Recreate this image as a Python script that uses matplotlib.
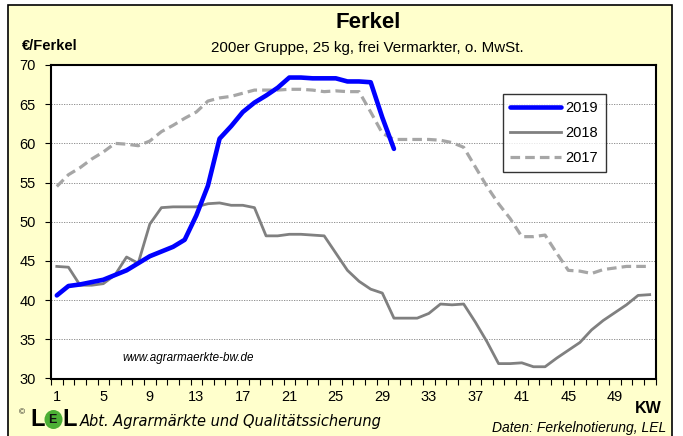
import matplotlib
matplotlib.use("Agg")
import matplotlib.pyplot as plt
from matplotlib.patches import Rectangle, Ellipse
from matplotlib.ticker import FixedLocator, NullFormatter

plt.rcParams['font.family'] = ['Liberation Sans', 'DejaVu Sans']

weeks = list(range(1, 53))
kw2019 = [40.6, 41.8, 42.0, 42.3, 42.6, 43.2, 43.8, 44.7, 45.6, 46.2, 46.8, 47.7, 50.8,
          54.6, 60.6, 62.2, 64.0, 65.2, 66.1, 67.1, 68.4, 68.4, 68.3, 68.3, 68.3, 67.9,
          67.9, 67.8, 63.3, 59.3]
kw2018 = [44.3, 44.2, 41.9, 41.9, 42.1, 43.2, 45.5, 44.7, 49.7, 51.8, 51.9, 51.9, 51.9,
          52.3, 52.4, 52.1, 52.1, 51.8, 48.2, 48.2, 48.4, 48.4, 48.3, 48.2, 46.0, 43.8,
          42.4, 41.4, 40.9, 37.7, 37.7, 37.7, 38.3, 39.5, 39.4, 39.5, 37.2, 34.7, 31.9,
          31.9, 32.0, 31.5, 31.5, 32.6, 33.6, 34.6, 36.2, 37.4, 38.4, 39.4, 40.6, 40.7]
kw2017 = [54.5, 56.0, 56.9, 58.0, 58.9, 60.0, 59.9, 59.7, 60.3, 61.5, 62.3, 63.2, 64.0,
          65.4, 65.8, 66.0, 66.4, 66.8, 66.8, 66.8, 66.9, 66.9, 66.8, 66.6, 66.7, 66.6,
          66.6, 64.0, 61.3, 60.5, 60.5, 60.5, 60.5, 60.4, 60.1, 59.5, 57.0, 54.5, 52.3,
          50.4, 48.1, 48.1, 48.3, 46.0, 43.8, 43.7, 43.4, 43.9, 44.1, 44.3, 44.3, 44.3]
xtick_labels = [1, 5, 9, 13, 17, 21, 25, 29, 33, 37, 41, 45, 49]
yticks = [30, 35, 40, 45, 50, 55, 60, 65, 70]

W, H = 683, 436
fig = plt.figure(figsize=(W / 100, H / 100), dpi=100, facecolor='white')

bg = Rectangle((8 / W, -0.01), (672 - 8) / W, (431 + 4.4) / H, transform=fig.transFigure,
               facecolor='#FFFFCC', edgecolor='black', linewidth=1.2, zorder=-5)
fig.patches.append(bg)

ax = fig.add_axes([51 / W, 1 - 378.5 / H, (655.5 - 51) / W, (378.5 - 65) / H])
ax.set_zorder(2)
ax.set_facecolor('white')

ax.plot(weeks[:len(kw2017)], kw2017, color='#A6A6A6', lw=2.3, ls=(0, (3, 1.6)), label='2017', zorder=3)
ax.plot(weeks[:len(kw2018)], kw2018, color='#808080', lw=2.0, label='2018', zorder=4)
ax.plot(weeks[:len(kw2019)], kw2019, color='#0000FF', lw=3.3, label='2019', zorder=5,
        solid_capstyle='round')

ax.set_xlim(0.5, 52.5)
ax.set_ylim(30, 70)
ax.set_yticks(yticks)
ax.set_yticklabels([str(v) for v in yticks], fontsize=10.5)
ax.xaxis.set_major_locator(FixedLocator([w + 0.5 for w in range(0, 53)]))
ax.xaxis.set_major_formatter(NullFormatter())
ax.tick_params(axis='x', length=4, width=0.8, direction='out')
ax.tick_params(axis='y', length=4, width=0.8, direction='out', pad=7)
for lab in xtick_labels:
    ax.text(lab, -0.06, str(lab), transform=ax.get_xaxis_transform(), ha='center', va='center',
            fontsize=10.5)
ax.grid(axis='y', color='#808080', ls=(0, (1.5, 1.5)), lw=0.6)
ax.set_axisbelow(True)
for s in ax.spines.values():
    s.set_linewidth(1.5)

handles, labels = ax.get_legend_handles_labels()
order = [2, 1, 0]
leg = ax.legend([handles[i] for i in order], [labels[i] for i in order],
                loc='upper left', bbox_to_anchor=((503 - 51) / (655.5 - 51), 1 - (94 - 65) / (378.5 - 65)),
                fontsize=10.5, frameon=True, fancybox=False, edgecolor='black', handlelength=3.5,
                handletextpad=0.3, borderpad=0.5, labelspacing=0.75, borderaxespad=0)
leg.get_frame().set_linewidth(1.0)

ax.text((122 - 51) / (655.5 - 51), 1 - (358 - 65) / (378.5 - 65), 'www.agrarmaerkte-bw.de',
        transform=ax.transAxes, fontsize=8.4, style='italic', va='center', ha='left')

fig.text(368 / W, 1 - 22 / H, 'Ferkel', ha='center', va='center', fontsize=16, fontweight='bold')
fig.text(367 / W, 1 - 48 / H, '200er Gruppe, 25 kg, frei Vermarkter, o. MwSt.', ha='center', va='center',
         fontsize=10.9)
fig.text(22 / W, 1 - 46 / H, '€/Ferkel', ha='left', va='center', fontsize=10.5, fontweight='bold')
fig.text(662 / W, 1 - 408 / H, 'KW', ha='right', va='center', fontsize=11.5, fontweight='bold')
fig.text(666 / W, 1 - 428 / H, 'Daten: Ferkelnotierung, LEL', ha='right', va='center', fontsize=10,
         style='italic')
fig.text(22 / W, 1 - 413 / H, '©', ha='center', va='center', fontsize=6)
fig.text(30 / W, 1 - 419.5 / H, 'L', ha='left', va='center', fontsize=17, fontweight='bold')
logo = Ellipse((53.5 / W, 1 - 419.5 / H), 18 / W, 19 / H, transform=fig.transFigure,
               facecolor='#4CAF35', edgecolor='none', zorder=3)
fig.patches.append(logo)
fig.text(52.5 / W, 1 - 419.5 / H, 'E', ha='center', va='center', fontsize=9, fontweight='bold',
         color='#111111')
fig.text(62 / W, 1 - 419.5 / H, 'L', ha='left', va='center', fontsize=17, fontweight='bold')
fig.text(80 / W, 1 - 421 / H, 'Abt. Agrarmärkte und Qualitätssicherung', ha='left', va='center',
         fontsize=10.5, style='italic', family=['DejaVu Sans'])

fig.savefig('out.png', dpi=100, facecolor='white')
